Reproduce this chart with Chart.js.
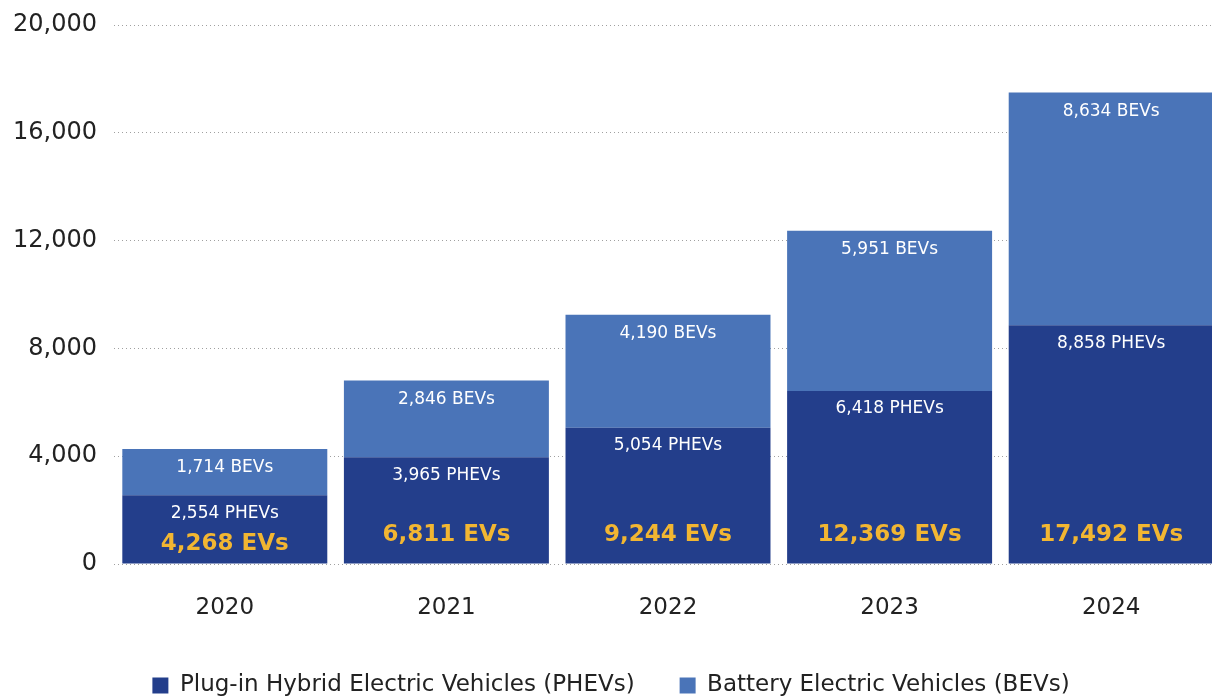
<!DOCTYPE html>
<html>
<head>
<meta charset="utf-8">
<script src="https://cdn.jsdelivr.net/npm/chart.js@4"></script>
<style>
  html, body { margin: 0; padding: 0; background: #fff; overflow: hidden; }
  #wrap { width: 1222px; height: 696px; }
</style>
</head>
<body>
<div id="wrap"><canvas id="evChart"></canvas></div>
<script>
// Data
const years = ['2020', '2021', '2022', '2023', '2024'];
const phevCounts = [2554, 3965, 5054, 6418, 8858];
const bevCounts = [1714, 2846, 4190, 5951, 8634];
const seriesNames = ['Plug-in Hybrid Electric Vehicles (PHEVs)', 'Battery Electric Vehicles (BEVs)'];
const yMin = 0;
const yMax = 20000;
const yStep = 4000;

const FONT = "'DejaVu Sans', sans-serif";
const DARK_BLUE = '#233e8b';
const LIGHT_BLUE = '#4a74b8';
const GOLD = '#f2b632';

const fmt = n => n.toLocaleString('en-US');

// Draws the white segment labels and the gold total label in each bar
const barLabels = {
  id: 'barLabels',
  afterDatasetsDraw(chart) {
    const ctx = chart.ctx;
    const phevBars = chart.getDatasetMeta(0).data;
    const bevBars = chart.getDatasetMeta(1).data;
    ctx.save();
    ctx.textAlign = 'center';
    ctx.textBaseline = 'middle';
    phevBars.forEach((bar, i) => {
      const bevBar = bevBars[i];
      const phevY = bar.y + 18;
      ctx.fillStyle = '#ffffff';
      ctx.font = `17px ${FONT}`;
      ctx.fillText(`${fmt(bevCounts[i])} BEVs`, bevBar.x, bevBar.y + 19);
      ctx.fillText(`${fmt(phevCounts[i])} PHEVs`, bar.x, phevY);
      // total sits near the bottom, pushed down a bit when the bar is short
      ctx.fillStyle = GOLD;
      ctx.font = `bold 23px ${FONT}`;
      const totalY = Math.max(bar.base - 28, phevY + 31);
      ctx.fillText(`${fmt(phevCounts[i] + bevCounts[i])} EVs`, bar.x, totalY);
    });
    ctx.restore();
  }
};

new Chart(document.getElementById('evChart'), {
  type: 'bar',
  data: {
    labels: years,
    datasets: [
      { label: seriesNames[0], data: phevCounts, backgroundColor: DARK_BLUE, borderWidth: 0 },
      { label: seriesNames[1], data: bevCounts, backgroundColor: LIGHT_BLUE, borderWidth: 0 }
    ]
  },
  options: {
    responsive: true,
    maintainAspectRatio: false,
    animation: false,
    categoryPercentage: 1,
    barPercentage: 0.925,
    layout: { padding: { top: 25, left: 0, right: 0, bottom: 0 } },
    plugins: {
      tooltip: { enabled: false },
      legend: {
        position: 'bottom',
        maxHeight: 67,
        labels: {
          boxWidth: 16,
          boxHeight: 16,
          padding: 45,
          color: '#222',
          font: { family: FONT, size: 23 }
        }
      }
    },
    scales: {
      x: {
        stacked: true,
        grid: { display: false },
        border: { display: false },
        ticks: { color: '#222', padding: 22, font: { family: FONT, size: 23 } },
        afterFit(scale) { scale.height = 65; }
      },
      y: {
        stacked: true,
        min: yMin,
        max: yMax,
        border: { display: false, dash: [1, 3] },
        grid: { color: '#a0a0a0', lineWidth: 1, drawTicks: false },
        ticks: {
          stepSize: yStep,
          padding: 17,
          color: '#222',
          font: { family: FONT, size: 24 },
          callback: v => fmt(v)
        },
        afterFit(scale) {
          scale.width = 114;
          scale.paddingTop = 0;
          scale.paddingBottom = 0;
        }
      }
    }
  },
  plugins: [barLabels]
});
</script>
</body>
</html>
